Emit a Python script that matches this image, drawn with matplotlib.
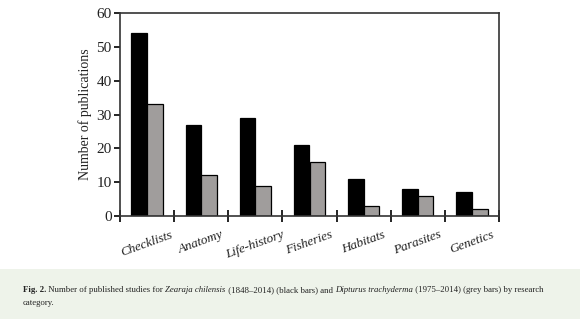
import matplotlib
matplotlib.use("Agg")
import matplotlib.pyplot as plt
import numpy as np
from matplotlib.patches import Rectangle

categories = ["Checklists", "Anatomy", "Life-history", "Fisheries", "Habitats", "Parasites", "Genetics"]
zearaja = [54, 27, 29, 21, 11, 8, 7]
dipturus = [33, 12, 9, 16, 3, 6, 2]
yticks = [0, 10, 20, 30, 40, 50, 60]

plt.rcParams['font.family'] = ['Liberation Serif', 'DejaVu Serif']

W, H = 580, 319
fig = plt.figure(figsize=(W/100, H/100), dpi=100)
fig.patch.set_facecolor('white')

ax = fig.add_axes([120/W, 1-216/H, (499-120)/W, (216-13)/H])
x = np.arange(len(categories))
bw = 0.29
ax.bar(x - bw/2, zearaja, bw, color='black', edgecolor='black', linewidth=0.9)
ax.bar(x + bw/2, dipturus, bw, color='#a09d9c', edgecolor='black', linewidth=0.9)
ax.set_xlim(-0.5, len(categories) - 0.5)
ax.set_ylim(0, 60)
ax.set_yticks(yticks)
ax.set_yticklabels([str(v) for v in yticks], fontsize=11, color='#222222')
ax.tick_params(axis='y', direction='out', length=4, width=1.2, pad=2)
ax.set_xticks(np.arange(len(categories) + 1) - 0.5, minor=False)
ax.set_xticklabels([])
ax.tick_params(axis='x', direction='inout', length=8, width=1.2)
for i, c in enumerate(categories):
    ax.text(i, -3.8, c, rotation=20, ha='center', va='top', fontsize=9.5,
            style='italic', color='#222222')
for s in ax.spines.values():
    s.set_linewidth(1.2)
    s.set_color('#333333')
ax.set_ylabel("Number of publications", fontsize=10, color='#222222', labelpad=3)

# caption box
fig.patches.append(Rectangle((0, 0), 1, (319-269)/H, transform=fig.transFigure,
                             facecolor='#eef3ea', edgecolor='none', zorder=0))

renderer = fig.canvas.get_renderer()
pieces = [("Fig. 2.", dict(weight='bold')), (" Number of published studies for ", {}),
          ("Zearaja chilensis", dict(style='italic')), (" (1848–2014) (black bars) and ", {}),
          ("Dipturus trachyderma", dict(style='italic')), (" (1975–2014) (grey bars) by research", {})]
# measure at base size, then scale to fit the caption line width
base = 7.0
total = 0
for txt, kw in pieces:
    t = fig.text(0, 0, txt, fontsize=base, **kw)
    total += t.get_window_extent(renderer).width
    t.remove()
fs = base * (547 - 23) / total
xp = 23
yp = 1 - 292/H
for txt, kw in pieces:
    t = fig.text(xp/W, yp, txt, fontsize=fs, color='#222222', va='baseline', **kw)
    bb = t.get_window_extent(renderer)
    xp = bb.x1
fig.text(23/W, 1 - 305/H, "category.", fontsize=fs, color='#222222', va='baseline')

fig.savefig("out.png", dpi=100)
